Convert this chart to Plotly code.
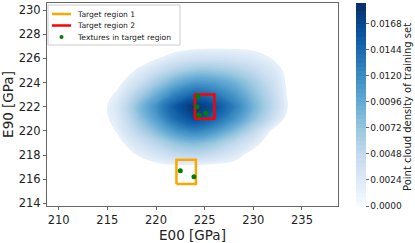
import numpy as np
import plotly.graph_objects as go

# ---- density grid (values in units of 1e-4) ----
x_grid = [212, 214, 216, 218, 220, 222, 224, 226, 228, 230, 232, 234, 236]
y_grid = [215, 216, 217, 218, 219, 220, 221, 222, 223, 224, 225, 226, 227, 228, 229]
density_rows = [
    [0, 0, 0, 0, 0, 0, 0, 0, 0, 0, 0, 0, 0],                 # 215
    [0, 0, 0, 0, 0, 0, 0, 0, 0, 0, 0, 0, 0],                 # 216
    [0, 0, 0, 13, 20, 21, 21, 20, 19, 5, 0, 0, 0],           # 217
    [0, 0, 10, 28, 42, 56, 61, 52, 38, 18, 0, 0, 0],         # 218
    [0, 4, 20, 44, 64, 83, 91, 80, 60, 38, 12, 0, 0],        # 219
    [0, 10, 30, 62, 90, 118, 132, 118, 92, 62, 24, 0, 0],    # 220
    [0, 16, 37, 77, 112, 148, 167, 150, 121, 86, 52, 10, 0],  # 221
    [0, 17, 40, 84, 122, 160, 183, 165, 135, 97, 62, 18, 0],  # 222
    [0, 13, 32, 68, 100, 132, 150, 140, 118, 88, 58, 16, 0],  # 223
    [0, 5, 21, 47, 75, 100, 116, 112, 98, 76, 50, 16, 0],    # 224
    [0, 0, 12, 30, 50, 69, 80, 80, 72, 58, 40, 16, 0],       # 225
    [0, 0, 2, 14, 26, 39, 47, 48, 45, 38, 27, 8, 0],         # 226
    [0, 0, 0, 4, 10, 18, 22, 23, 23, 22, 14, 2, 0],          # 227
    [0, 0, 0, 0, 0, 0, 0, 0, 0, 0, 0, 0, 0],                 # 228
    [0, 0, 0, 0, 0, 0, 0, 0, 0, 0, 0, 0, 0],                 # 229
]
DENSITY_UNIT = 1e-4

# ---- target regions ----
region1_x = [222.1, 224.1]
region1_y = [215.6, 217.6]
region2_x = [224.0, 226.0]
region2_y = [221.0, 223.0]

# ---- textures in target regions ----
tex_e00 = [222.5, 223.9, 224.3, 224.2, 224.4, 225.15]
tex_e90 = [216.7, 216.2, 222.85, 222.0, 221.3, 221.45]

# ---- ticks / labels ----
x_ticks = [210, 215, 220, 225, 230, 235]
y_ticks = [214, 216, 218, 220, 222, 224, 226, 228, 230]
cb_ticks = [0.0, 0.0024, 0.0048, 0.0072, 0.0096, 0.0120, 0.0144, 0.0168]
legend_labels = ["Target region 1", "Target region 2", "Textures in target region"]
legend_colors = ["#ffa500", "#ff0000", "#008000"]

z = np.array(density_rows, dtype=float) * DENSITY_UNIT

ZMAX = 0.0187
LOWEST = 0.0016
STEP = 0.0004
blues = ["#f7fbff", "#deebf7", "#c6dbef", "#9ecae1", "#6baed6",
         "#4292c6", "#2171b5", "#08519c", "#08306b"]
blues_scale = [[i / 8, c] for i, c in enumerate(blues)]
# drawing scale: everything below the lowest shaded level stays white
cut = LOWEST / ZMAX - 0.002
draw_scale = [[0.0, "#ffffff"], [cut, "#ffffff"], [cut + 0.0005, "#e8f1fa"]]
draw_scale += [[f, c] for f, c in blues_scale if f > cut + 0.0005]

FONT = "DejaVu Sans"
AX = "#666666"
W, H = 415, 243
ML, MR, MT, MB = 47, 77, 3, 37
PW, PH = W - ML - MR, H - MT - MB


def px_x(p):
    return (p - ML) / PW


def px_y(p):
    return (H - MB - p) / PH


fig = go.Figure()
# shaded density (lowest level not shaded)
fig.add_trace(go.Contour(
    x=x_grid, y=y_grid, z=z,
    colorscale=draw_scale, zmin=0, zmax=ZMAX,
    contours=dict(start=LOWEST, end=0.0186, size=STEP, coloring="fill"),
    line=dict(width=0, smoothing=1.0),
    hoverinfo="skip", showlegend=False, showscale=False,
))
# same density, invisible, only to carry the full Blues colour bar
fig.add_trace(go.Contour(
    x=x_grid, y=y_grid, z=z, opacity=0,
    colorscale=blues_scale, zmin=0, zmax=ZMAX,
    contours=dict(start=0, end=0.0186, size=STEP, coloring="fill"),
    line=dict(width=0, smoothing=1.0),
    hoverinfo="skip", showlegend=False, showscale=True,
    colorbar=dict(
        x=px_x(356), xanchor="left", xpad=0, ypad=0,
        y=0.5, yanchor="middle", len=1, lenmode="fraction",
        thickness=10, outlinewidth=0,
        tickvals=cb_ticks, tickformat=".4f",
        ticks="outside", ticklen=3, tickcolor=AX,
        tickfont=dict(size=9, family=FONT, color="#222"),
    ),
))


def box(xr, yr):
    return ([xr[0], xr[1], xr[1], xr[0], xr[0]],
            [yr[0], yr[0], yr[1], yr[1], yr[0]])


bx, by = box(region1_x, region1_y)
fig.add_trace(go.Scatter(x=bx, y=by, mode="lines", name=legend_labels[0],
                         showlegend=False, line=dict(color=legend_colors[0], width=2.5)))
bx, by = box(region2_x, region2_y)
fig.add_trace(go.Scatter(x=bx, y=by, mode="lines", name=legend_labels[1],
                         showlegend=False, line=dict(color=legend_colors[1], width=2.5)))
fig.add_trace(go.Scatter(x=tex_e00, y=tex_e90, mode="markers", name=legend_labels[2],
                         showlegend=False, marker=dict(color=legend_colors[2], size=5)))

# ---- hand-built compact legend (matplotlib style) ----
shapes = [dict(type="rect", xref="paper", yref="paper",
               x0=px_x(48), x1=px_x(180), y0=px_y(45), y1=px_y(5),
               line=dict(color="#cccccc", width=1),
               fillcolor="rgba(255,255,255,0.85)", layer="above")]
annotations = []
rows_y = [14, 25.5, 37]
for i, (lab, col) in enumerate(zip(legend_labels, legend_colors)):
    yy = rows_y[i]
    if i < 2:
        shapes.append(dict(type="line", xref="paper", yref="paper",
                           x0=px_x(52), x1=px_x(71), y0=px_y(yy), y1=px_y(yy),
                           line=dict(color=col, width=2.5), layer="above"))
    else:
        shapes.append(dict(type="circle", xref="paper", yref="paper",
                           x0=px_x(59.5), x1=px_x(63.5), y0=px_y(yy + 2), y1=px_y(yy - 2),
                           line=dict(color=col, width=0), fillcolor=col, layer="above"))
    annotations.append(dict(text=lab, xref="paper", yref="paper",
                            x=px_x(75), y=px_y(yy), xanchor="left", yanchor="middle",
                            showarrow=False, font=dict(size=7.6, family=FONT, color="#222")))

annotations.append(dict(text="Point cloud density of training set", xref="paper", yref="paper",
                        x=px_x(407), y=px_y(107), xanchor="center", yanchor="middle",
                        textangle=-90, showarrow=False,
                        font=dict(size=10, family=FONT, color="#222")))

fig.update_layout(
    width=W, height=H,
    margin=dict(l=ML, r=MR, t=MT, b=MB, autoexpand=False),
    paper_bgcolor="white", plot_bgcolor="white",
    font=dict(family=FONT, color="#222"),
    shapes=shapes, annotations=annotations, showlegend=False,
)
fig.update_xaxes(range=[208.8, 238.7], tickvals=x_ticks, showgrid=False,
                 zeroline=False, showline=True, linecolor=AX, linewidth=1,
                 mirror=True, ticks="outside", ticklen=3, tickcolor=AX,
                 automargin=False,
                 tickfont=dict(size=11.5, family=FONT, color="#222"),
                 title=dict(text="E00 [GPa]", font=dict(size=13.5, family=FONT),
                            standoff=2))
fig.update_yaxes(range=[213.78, 230.58], tickvals=y_ticks, showgrid=False,
                 zeroline=False, showline=True, linecolor=AX, linewidth=1,
                 mirror=True, ticks="outside", ticklen=3, tickcolor=AX,
                 automargin=False,
                 tickfont=dict(size=11.5, family=FONT, color="#222"),
                 title=dict(text="E90 [GPa]", font=dict(size=13.5, family=FONT),
                            standoff=2))

fig.write_html("out.html", config={"displayModeBar": False},
               post_script="document.body.style.margin='0';document.body.style.overflow='hidden';")
